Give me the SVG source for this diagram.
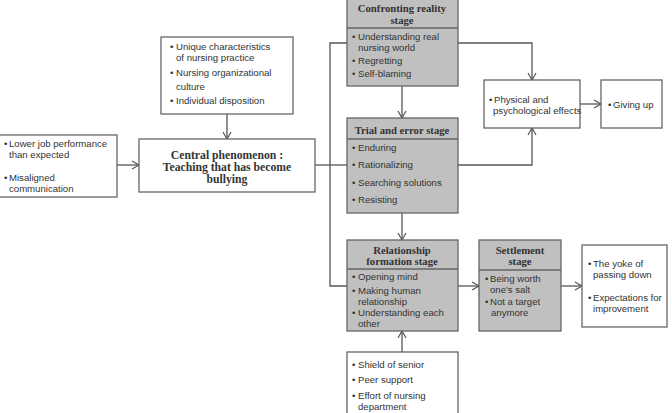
<svg xmlns="http://www.w3.org/2000/svg" width="672" height="413" viewBox="0 0 672 413">
<defs>
<marker id="arr" markerWidth="10" markerHeight="10" refX="8" refY="5" orient="auto" markerUnits="userSpaceOnUse">
<path d="M1,1 L8,5 L1,9" fill="none" stroke="#555" stroke-width="1.2"/>
</marker>
<style>
.box{fill:#fff;stroke:#666;stroke-width:1.3}
.gbox{fill:#c0c0c0;stroke:#666;stroke-width:1.3}
.div{stroke:#666;stroke-width:1.3}
.t{font-family:"Liberation Sans",Arial,sans-serif;font-size:9.6px;fill:#333}
.h{font-family:"Liberation Serif","Times New Roman",serif;font-weight:bold;font-size:10.7px;fill:#333;text-anchor:middle}
.hc{font-family:"Liberation Serif","Times New Roman",serif;font-weight:bold;font-size:11.7px;fill:#333;text-anchor:middle}
.c{fill:none;stroke:#555;stroke-width:1.3}
</style>
</defs>
<rect width="672" height="413" fill="#fff"/>
<g id="connectors">
<path class="c" d="M227,114 V139" marker-end="url(#arr)"/>
<path class="c" d="M117,165 H139" marker-end="url(#arr)"/>
<path class="c" d="M315,165 H347"/>
<path class="c" d="M347,43 H330 V286 H347"/>
<path class="c" d="M458,43 H532 V80" marker-end="url(#arr)"/>
<path class="c" d="M458,165 H532 V128" marker-end="url(#arr)"/>
<path class="c" d="M580,104 H601" marker-end="url(#arr)"/>
<path class="c" d="M402,86 V118" marker-end="url(#arr)"/>
<path class="c" d="M402,213 V240" marker-end="url(#arr)"/>
<path class="c" d="M458,286 H479" marker-end="url(#arr)"/>
<path class="c" d="M561,286 H582" marker-end="url(#arr)"/>
<path class="c" d="M402,352 V331" marker-end="url(#arr)"/>
</g>
<g id="antecedents">
<rect class="box" x="161" y="37" width="132" height="77"/>
<text class="t" x="170" y="50">• <tspan x="176">Unique characteristics</tspan></text>
<text class="t" x="176" y="61">of nursing practice</text>
<text class="t" x="170" y="76">• <tspan x="176">Nursing organizational</tspan></text>
<text class="t" x="176" y="90">culture</text>
<text class="t" x="170" y="104">• <tspan x="176">Individual disposition</tspan></text>
</g>
<g id="causes">
<rect class="box" x="-1" y="135" width="118" height="62"/>
<text class="t" x="4" y="147">• <tspan x="9">Lower job performance</tspan></text>
<text class="t" x="9" y="158">than expected</text>
<text class="t" x="4" y="181">• <tspan x="9">Misaligned</tspan></text>
<text class="t" x="9" y="192">communication</text>
</g>
<g id="central">
<rect class="box" x="139" y="139" width="176" height="53"/>
<text class="hc" x="227" y="159">Central  phenomenon :</text>
<text class="hc" x="227" y="171">Teaching that has become</text>
<text class="hc" x="227" y="183">bullying</text>
</g>
<g id="confronting">
<rect class="gbox" x="347" y="-1" width="111" height="87"/>
<line class="div" x1="347" y1="28" x2="458" y2="28"/>
<text class="h" x="402" y="12">Confronting  reality</text>
<text class="h" x="402" y="24">stage</text>
<text class="t" x="352" y="40">• <tspan x="358">Understanding real</tspan></text>
<text class="t" x="358" y="51">nursing world</text>
<text class="t" x="352" y="64">• <tspan x="358">Regretting</tspan></text>
<text class="t" x="352" y="77">• <tspan x="358">Self-blaming</tspan></text>
</g>
<g id="trial">
<rect class="gbox" x="347" y="118" width="111" height="95"/>
<line class="div" x1="347" y1="139" x2="458" y2="139"/>
<text class="h" x="402" y="134">Trial and error stage</text>
<text class="t" x="352" y="151">• <tspan x="358">Enduring</tspan></text>
<text class="t" x="352" y="168">• <tspan x="358">Rationalizing</tspan></text>
<text class="t" x="352" y="186">• <tspan x="358">Searching solutions</tspan></text>
<text class="t" x="352" y="203">• <tspan x="358">Resisting</tspan></text>
</g>
<g id="physical">
<rect class="box" x="484" y="80" width="96" height="48"/>
<text class="t" x="489" y="103">• <tspan x="494">Physical  and</tspan></text>
<text class="t" x="493" y="114">psychological effects</text>
</g>
<g id="givingup">
<rect class="box" x="601" y="80" width="61" height="48"/>
<text class="t" x="608" y="108">• <tspan x="613">Giving  up</tspan></text>
</g>
<g id="relationship">
<rect class="gbox" x="347" y="240" width="111" height="91"/>
<line class="div" x1="347" y1="269" x2="458" y2="269"/>
<text class="h" x="402" y="254">Relationship</text>
<text class="h" x="402" y="265">formation stage</text>
<text class="t" x="352" y="280">• <tspan x="358">Opening mind</tspan></text>
<text class="t" x="352" y="294">• <tspan x="358">Making human</tspan></text>
<text class="t" x="358" y="305">relationship</text>
<text class="t" x="352" y="316">• <tspan x="358">Understanding each</tspan></text>
<text class="t" x="358" y="327">other</text>
</g>
<g id="settlement">
<rect class="gbox" x="479" y="240" width="82" height="91"/>
<line class="div" x1="479" y1="270" x2="561" y2="270"/>
<text class="h" x="520" y="254">Settlement</text>
<text class="h" x="520" y="265">stage</text>
<text class="t" x="485" y="282">• <tspan x="490">Being worth</tspan></text>
<text class="t" x="490" y="293">one's salt</text>
<text class="t" x="485" y="305">• <tspan x="490">Not a target</tspan></text>
<text class="t" x="491" y="316">anymore</text>
</g>
<g id="consequences">
<rect class="box" x="582" y="245" width="85" height="82"/>
<text class="t" x="588" y="267">• <tspan x="593">The yoke of</tspan></text>
<text class="t" x="593" y="278">passing down</text>
<text class="t" x="588" y="301">• <tspan x="593">Expectations for</tspan></text>
<text class="t" x="593" y="312">improvement</text>
</g>
<g id="supports">
<rect class="box" x="347" y="352" width="111" height="70"/>
<text class="t" x="352" y="368">• <tspan x="358">Shield of senior</tspan></text>
<text class="t" x="352" y="383">• <tspan x="358">Peer support</tspan></text>
<text class="t" x="352" y="399">• <tspan x="358">Effort of nursing</tspan></text>
<text class="t" x="358" y="410">department</text>
</g>
</svg>
